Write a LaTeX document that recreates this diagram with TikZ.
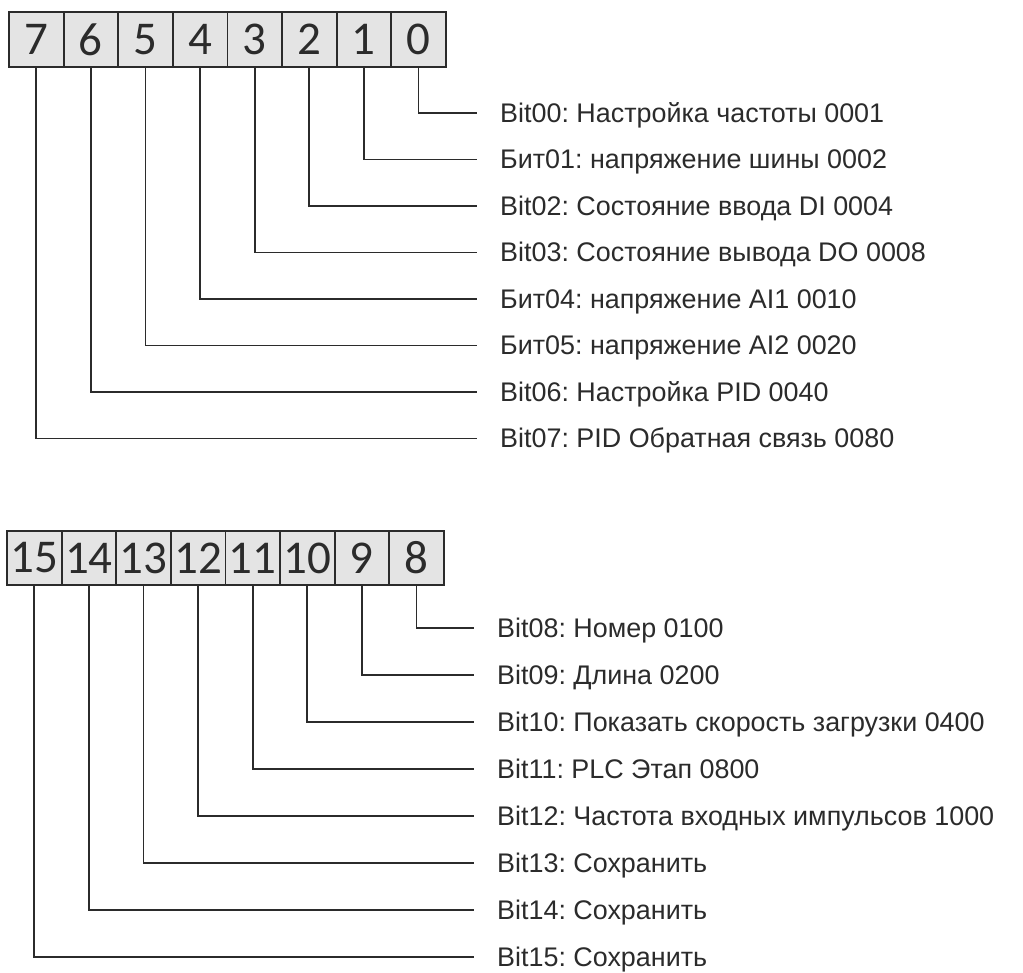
\documentclass[tikz,border=0pt]{standalone}
\usepackage{fontspec}
\setmainfont{Liberation Sans}
\newfontfamily\labelfont{Liberation Sans}
\newfontfamily\digitfont{Carlito}
\frenchspacing
\definecolor{boxgray}{HTML}{E4E4E4}
\definecolor{inkgray}{HTML}{2B2B2B}
\tikzset{
  bitbox/.style={draw=inkgray, fill=boxgray, line width=1.8pt,
    minimum width=54.6pt, minimum height=54.6pt, inner sep=0pt,
    font=\digitfont\fontsize{47}{47}\selectfont, text=inkgray},
  bitlabel/.style={anchor=west, inner sep=0pt, text height=19pt, text depth=0pt,
    font=\labelfont\fontsize{26.9}{32}\selectfont, text=inkgray},
  leader/.style={draw=inkgray, line width=1.8pt, shorten >=23pt}
}
\begin{document}
\begin{tikzpicture}[x=1pt, y=-1pt]
    % Page frame in pixel units of the reference
    \useasboundingbox (0,0) rectangle (1023,973);

    % Low byte: bit boxes 7 ... 0
    \foreach \i in {0,...,7}
        \node[bitbox] (b\i) at ({36.3+54.6*(7-\i)}, 39.5) {\i};

    % High byte: bit boxes 15 ... 8
    \foreach \i in {8,...,15}
        \node[bitbox] (b\i) at ({34.3+54.6*(15-\i)}, 558) {\i};

    % Descriptions of the low byte
    \foreach \i/\txt in {0/{Bit00: Настройка частоты 0001},
                         1/{Бит01: напряжение шины 0002},
                         2/{Bit02: Состояние ввода DI 0004},
                         3/{Bit03: Состояние вывода DO 0008},
                         4/{Бит04: напряжение AI1 0010},
                         5/{Бит05: напряжение AI2 0020},
                         6/{Bit06: Настройка PID 0040},
                         7/{Bit07: PID Обратная связь 0080}}
        \node[bitlabel] (l\i) at (500, {113+46.5*\i}) {\txt};

    % Descriptions of the high byte
    \foreach \i/\txt in {8/{Bit08: Номер 0100},
                         9/{Bit09: Длина 0200},
                         10/{Bit10: Показать скорость загрузки 0400},
                         11/{Bit11: PLC Этап 0800},
                         12/{Bit12: Частота входных импульсов 1000},
                         13/{Bit13: Сохранить},
                         14/{Bit14: Сохранить},
                         15/{Bit15: Сохранить}}
        \node[bitlabel] (l\i) at (497, {628+47*(\i-8)}) {\txt};

    % Leaders from each bit down and across to its text
    \foreach \i in {0,...,15}
        \draw[leader] (b\i.south) |- (l\i.west);
\end{tikzpicture}
\end{document}
